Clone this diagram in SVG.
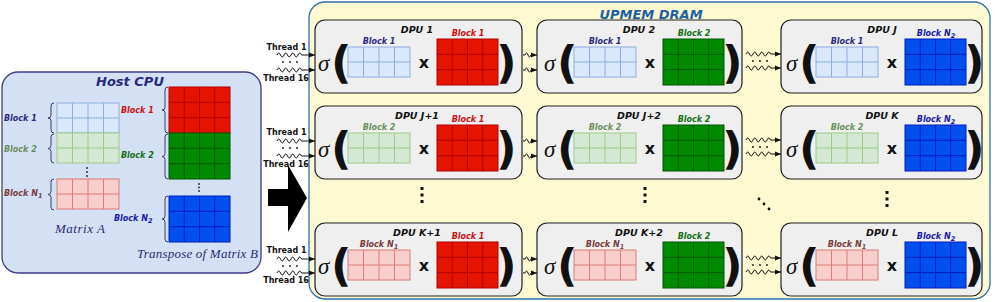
<svg xmlns="http://www.w3.org/2000/svg" xmlns:xlink="http://www.w3.org/1999/xlink" width="997" height="302" viewBox="0 0 997 302">
<style>
.lbl{font-family:"DejaVu Sans",sans-serif;font-weight:bold;font-style:oblique;font-size:8px}
.dpul{font-family:"DejaVu Sans",sans-serif;font-weight:bold;font-style:oblique;font-size:9.5px;fill:#111;text-anchor:middle}
.thr{font-family:"DejaVu Sans",sans-serif;font-weight:bold;font-size:8px;fill:#111;text-anchor:middle}
.sig{font-family:"Liberation Serif",serif;font-style:italic;font-size:23px;fill:#111}
.par{font-family:"DejaVu Sans",sans-serif;font-weight:bold;font-size:45px;fill:#111}
.mul{font-family:"DejaVu Sans",sans-serif;font-weight:bold;font-size:16px;fill:#111;text-anchor:middle}
.math{font-family:"Liberation Serif",serif;font-style:italic;font-size:13px;fill:#2b2b70}
.title{font-family:"DejaVu Sans",sans-serif;font-weight:bold;font-style:oblique;font-size:13px;text-anchor:middle}
.box{fill:#efefef;stroke:#222;stroke-width:1.2}
.sq{fill:none;stroke:#111;stroke-width:1;marker-end:url(#ah)}
.brace{fill:none;stroke:#3a3a6a;stroke-width:1}
.cB{fill:#2a2a7c}.cG{fill:#6a8f5a}.cP{fill:#7a3c3c}.cR{fill:#cc1010}.cDG{fill:#127012}.cBl{fill:#1a1aa8}
.mid{text-anchor:middle}
</style>
<defs>
<marker id="ah" viewBox="0 0 6 6" refX="6" refY="3" markerWidth="6" markerHeight="6" markerUnits="userSpaceOnUse" orient="auto"><path d="M0,0.5 L6,3 L0,5.5 z" fill="#111"/></marker>
<g id="mLB"><rect width="62" height="30" fill="#dae8fc" stroke="#8eaee0"/><path d="M15.5,0V30M31,0V30M46.5,0V30M0,15H62" stroke="#8eaee0" fill="none"/></g>
<g id="mLG"><rect width="62" height="30" fill="#d5e8d4" stroke="#9dcc86"/><path d="M15.5,0V30M31,0V30M46.5,0V30M0,15H62" stroke="#9dcc86" fill="none"/></g>
<g id="mLP"><rect width="62" height="30" fill="#f8cecc" stroke="#e07a76"/><path d="M15.5,0V30M31,0V30M46.5,0V30M0,15H62" stroke="#e07a76" fill="none"/></g>
<g id="mR"><rect width="61" height="46" fill="#e51400" stroke="#b20000"/><path d="M15.25,0V46M30.5,0V46M45.75,0V46M0,15.33H61M0,30.67H61" stroke="#b20000" fill="none"/></g>
<g id="mG"><rect width="61" height="46" fill="#008a00" stroke="#005700"/><path d="M15.25,0V46M30.5,0V46M45.75,0V46M0,15.33H61M0,30.67H61" stroke="#005700" fill="none"/></g>
<g id="mB"><rect width="61" height="46" fill="#0050ef" stroke="#001dbc"/><path d="M15.25,0V46M30.5,0V46M45.75,0V46M0,15.33H61M0,30.67H61" stroke="#001dbc" fill="none"/></g>
</defs>

<!-- Host CPU -->
<g id="host">
<rect x="2" y="72" width="259" height="201" rx="16" fill="#d4e1f5" stroke="#3d3d85" stroke-width="1.3"/>
<text x="130" y="86" class="title" fill="#2a2a7c">Host CPU</text>
<use xlink:href="#mLB" x="57" y="103"/>
<use xlink:href="#mLG" x="57" y="133"/>
<use xlink:href="#mLP" x="57" y="179"/>
<circle cx="87" cy="168" r="0.9" fill="#222"/><circle cx="87" cy="172" r="0.9" fill="#222"/><circle cx="87" cy="176" r="0.9" fill="#222"/>
<path class="brace" d="M54,103 Q51,103 51,106 L51,115 Q51,118 48,118 Q51,118 51,121 L51,130 Q51,133 54,133"/>
<path class="brace" d="M54,134 Q51,134 51,137 L51,145.5 Q51,148.5 48,148.5 Q51,148.5 51,151.5 L51,160 Q51,163 54,163"/>
<path class="brace" d="M54,179 Q51,179 51,182 L51,191.5 Q51,194.5 48,194.5 Q51,194.5 51,197.5 L51,207 Q51,210 54,210"/>
<text x="4" y="121" class="lbl cB">Block 1</text>
<text x="4" y="152" class="lbl cG">Block 2</text>
<text x="4" y="196" class="lbl cP">Block N<tspan font-size="6.5" dy="2">1</tspan></text>
<text x="55" y="233" class="math" textLength="50" lengthAdjust="spacing">Matrix A</text>
<use xlink:href="#mR" x="169" y="87"/>
<use xlink:href="#mG" x="169" y="133"/>
<use xlink:href="#mB" x="169" y="196"/>
<circle cx="199" cy="184" r="0.9" fill="#222"/><circle cx="199" cy="187.5" r="0.9" fill="#222"/><circle cx="199" cy="191" r="0.9" fill="#222"/>
<path class="brace" d="M168,87 Q165,87 165,90 L165,107 Q165,110 162,110 Q165,110 165,113 L165,130 Q165,133 168,133"/>
<path class="brace" d="M168,134 Q165,134 165,137 L165,153.5 Q165,156.5 162,156.5 Q165,156.5 165,159.5 L165,176 Q165,179 168,179"/>
<path class="brace" d="M168,196 Q165,196 165,199 L165,216 Q165,219 162,219 Q165,219 165,222 L165,239 Q165,242 168,242"/>
<text x="121" y="113" class="lbl cR">Block 1</text>
<text x="121" y="158" class="lbl cDG">Block 2</text>
<text x="114" y="221" class="lbl cBl">Block N<tspan font-size="6.5" dy="2">2</tspan></text>
<text x="137" y="258" class="math" textLength="121" lengthAdjust="spacing">Transpose of Matrix B</text>
</g>

<!-- UPMEM DRAM -->
<g id="upmem">
<rect x="309" y="2" width="681" height="297" rx="16" fill="#fdf9d0" stroke="#2f6fae" stroke-width="1.3"/>
<text x="651" y="19" class="title" fill="#1d5fa0">UPMEM DRAM</text>
</g>

<!-- DPUs -->
<g id="dpu1" transform="translate(313,20)">
<rect class="box" x="2" y="0" width="207" height="73" rx="10"/>
<text x="104" y="13" class="dpul">DPU 1</text>
<text x="5" y="51" class="sig">σ</text><text x="18" y="58" class="par">(</text>
<use xlink:href="#mLB" x="35" y="27"/><text x="66" y="24" class="lbl cB mid">Block 1</text>
<text x="111" y="48" class="mul">x</text>
<use xlink:href="#mR" x="124" y="19"/><text x="155" y="16" class="lbl cR mid">Block 1</text>
<text x="183" y="58" class="par">)</text>
</g>
<g id="dpu2" transform="translate(539,20)">
<rect class="box" x="-2" y="0" width="205" height="73" rx="10"/>
<text x="100" y="13" class="dpul">DPU 2</text>
<text x="5" y="51" class="sig">σ</text><text x="18" y="58" class="par">(</text>
<use xlink:href="#mLB" x="35" y="27"/><text x="66" y="24" class="lbl cB mid">Block 1</text>
<text x="111" y="48" class="mul">x</text>
<use xlink:href="#mG" x="124" y="19"/><text x="155" y="16" class="lbl cDG mid">Block 2</text>
<text x="183" y="58" class="par">)</text>
</g>
<g id="dpuJ" transform="translate(781,20)">
<rect class="box" x="0" y="0" width="201" height="73" rx="10"/>
<text x="101" y="13" class="dpul">DPU J</text>
<text x="5" y="51" class="sig">σ</text><text x="18" y="58" class="par">(</text>
<use xlink:href="#mLB" x="35" y="27"/><text x="66" y="24" class="lbl cB mid">Block 1</text>
<text x="111" y="48" class="mul">x</text>
<use xlink:href="#mB" x="124" y="19"/><text x="155" y="16" class="lbl cBl mid">Block N<tspan font-size="6.5" dy="2">2</tspan></text>
<text x="183" y="58" class="par">)</text>
</g>

<g id="dpuJ1" transform="translate(313,106)">
<rect class="box" x="2" y="0" width="207" height="73" rx="10"/>
<text x="104" y="13" class="dpul">DPU J+1</text>
<text x="5" y="51" class="sig">σ</text><text x="18" y="58" class="par">(</text>
<use xlink:href="#mLG" x="35" y="27"/><text x="66" y="24" class="lbl cG mid">Block 2</text>
<text x="111" y="48" class="mul">x</text>
<use xlink:href="#mR" x="124" y="19"/><text x="155" y="16" class="lbl cR mid">Block 1</text>
<text x="183" y="58" class="par">)</text>
</g>
<g id="dpuJ2" transform="translate(539,106)">
<rect class="box" x="-2" y="0" width="205" height="73" rx="10"/>
<text x="100" y="13" class="dpul">DPU J+2</text>
<text x="5" y="51" class="sig">σ</text><text x="18" y="58" class="par">(</text>
<use xlink:href="#mLG" x="35" y="27"/><text x="66" y="24" class="lbl cG mid">Block 2</text>
<text x="111" y="48" class="mul">x</text>
<use xlink:href="#mG" x="124" y="19"/><text x="155" y="16" class="lbl cDG mid">Block 2</text>
<text x="183" y="58" class="par">)</text>
</g>
<g id="dpuK" transform="translate(781,106)">
<rect class="box" x="0" y="0" width="201" height="73" rx="10"/>
<text x="101" y="13" class="dpul">DPU K</text>
<text x="5" y="51" class="sig">σ</text><text x="18" y="58" class="par">(</text>
<use xlink:href="#mLG" x="35" y="27"/><text x="66" y="24" class="lbl cG mid">Block 2</text>
<text x="111" y="48" class="mul">x</text>
<use xlink:href="#mB" x="124" y="19"/><text x="155" y="16" class="lbl cBl mid">Block N<tspan font-size="6.5" dy="2">2</tspan></text>
<text x="183" y="58" class="par">)</text>
</g>

<g id="dpuK1" transform="translate(313,223)">
<rect class="box" x="2" y="0" width="207" height="73" rx="10"/>
<text x="104" y="13" class="dpul">DPU K+1</text>
<text x="5" y="51" class="sig">σ</text><text x="18" y="58" class="par">(</text>
<use xlink:href="#mLP" x="35" y="27"/><text x="66" y="24" class="lbl cP mid">Block N<tspan font-size="6.5" dy="2">1</tspan></text>
<text x="111" y="48" class="mul">x</text>
<use xlink:href="#mR" x="124" y="19"/><text x="155" y="16" class="lbl cR mid">Block 1</text>
<text x="183" y="58" class="par">)</text>
</g>
<g id="dpuK2" transform="translate(539,223)">
<rect class="box" x="-2" y="0" width="205" height="73" rx="10"/>
<text x="100" y="13" class="dpul">DPU K+2</text>
<text x="5" y="51" class="sig">σ</text><text x="18" y="58" class="par">(</text>
<use xlink:href="#mLP" x="35" y="27"/><text x="66" y="24" class="lbl cP mid">Block N<tspan font-size="6.5" dy="2">1</tspan></text>
<text x="111" y="48" class="mul">x</text>
<use xlink:href="#mG" x="124" y="19"/><text x="155" y="16" class="lbl cDG mid">Block 2</text>
<text x="183" y="58" class="par">)</text>
</g>
<g id="dpuL" transform="translate(781,223)">
<rect class="box" x="0" y="0" width="201" height="73" rx="10"/>
<text x="101" y="13" class="dpul">DPU L</text>
<text x="5" y="51" class="sig">σ</text><text x="18" y="58" class="par">(</text>
<use xlink:href="#mLP" x="35" y="27"/><text x="66" y="24" class="lbl cP mid">Block N<tspan font-size="6.5" dy="2">1</tspan></text>
<text x="111" y="48" class="mul">x</text>
<use xlink:href="#mB" x="124" y="19"/><text x="155" y="16" class="lbl cBl mid">Block N<tspan font-size="6.5" dy="2">2</tspan></text>
<text x="183" y="58" class="par">)</text>
</g>

<!-- ellipsis dots -->
<g id="ellipses" fill="#111">
<rect x="420.5" y="187" width="3" height="3"/><rect x="420.5" y="193.5" width="3" height="3"/><rect x="420.5" y="200" width="3" height="3"/>
<rect x="643.5" y="187" width="3" height="3"/><rect x="643.5" y="193.5" width="3" height="3"/><rect x="643.5" y="200" width="3" height="3"/>
<rect x="885.5" y="191" width="3" height="3"/><rect x="885.5" y="197.5" width="3" height="3"/><rect x="885.5" y="204" width="3" height="3"/>
<circle cx="759" cy="199" r="1.4"/><circle cx="764" cy="204" r="1.4"/><circle cx="769" cy="209" r="1.4"/>
</g>

<!-- connectors -->
<g id="connectors">
<polygon points="268,189 288,189 288,165 307,198 288,232 288,206 268,206" fill="#000"/>
<path class="sq" d="M277,55 q1.75,-4 3.5,0 t3.5,0 t3.5,0 t3.5,0 t3.5,0 t3.5,0 t3.5,0 L315,55"/>
<path class="sq" d="M277,70 q1.75,-4 3.5,0 t3.5,0 t3.5,0 t3.5,0 t3.5,0 t3.5,0 t3.5,0 L315,70"/>
<path class="sq" d="M277,141 q1.75,-4 3.5,0 t3.5,0 t3.5,0 t3.5,0 t3.5,0 t3.5,0 t3.5,0 L315,141"/>
<path class="sq" d="M277,156 q1.75,-4 3.5,0 t3.5,0 t3.5,0 t3.5,0 t3.5,0 t3.5,0 t3.5,0 L315,156"/>
<path class="sq" d="M277,259 q1.75,-4 3.5,0 t3.5,0 t3.5,0 t3.5,0 t3.5,0 t3.5,0 t3.5,0 L315,259"/>
<path class="sq" d="M277,273 q1.75,-4 3.5,0 t3.5,0 t3.5,0 t3.5,0 t3.5,0 t3.5,0 t3.5,0 L315,273"/>

<path class="sq" d="M523,55 l2,0 q1.5,-4 3,0 t3,0 L537,55"/>
<path class="sq" d="M523,70 l2,0 q1.5,-4 3,0 t3,0 L537,70"/>
<path class="sq" d="M523,141 l2,0 q1.5,-4 3,0 t3,0 L537,141"/>
<path class="sq" d="M523,156 l2,0 q1.5,-4 3,0 t3,0 L537,156"/>
<path class="sq" d="M523,259 l2,0 q1.5,-4 3,0 t3,0 L537,259"/>
<path class="sq" d="M523,273 l2,0 q1.5,-4 3,0 t3,0 L537,273"/>

<path class="sq" d="M746,54 q1.75,-4 3.5,0 t3.5,0 t3.5,0 t3.5,0 t3.5,0 t3.5,0 t3.5,0 L781,54"/>
<path class="sq" d="M746,68 q1.75,-4 3.5,0 t3.5,0 t3.5,0 t3.5,0 t3.5,0 t3.5,0 t3.5,0 L781,68"/>
<path class="sq" d="M746,140 q1.75,-4 3.5,0 t3.5,0 t3.5,0 t3.5,0 t3.5,0 t3.5,0 t3.5,0 L781,140"/>
<path class="sq" d="M746,154 q1.75,-4 3.5,0 t3.5,0 t3.5,0 t3.5,0 t3.5,0 t3.5,0 t3.5,0 L781,154"/>
<path class="sq" d="M746,258 q1.75,-4 3.5,0 t3.5,0 t3.5,0 t3.5,0 t3.5,0 t3.5,0 t3.5,0 L781,258"/>
<path class="sq" d="M746,272 q1.75,-4 3.5,0 t3.5,0 t3.5,0 t3.5,0 t3.5,0 t3.5,0 t3.5,0 L781,272"/>
<g fill="#111">
<circle cx="283" cy="62" r="0.9"/><circle cx="290" cy="62" r="0.9"/><circle cx="297" cy="62" r="0.9"/>
<circle cx="283" cy="148" r="0.9"/><circle cx="290" cy="148" r="0.9"/><circle cx="297" cy="148" r="0.9"/>
<circle cx="283" cy="266" r="0.9"/><circle cx="290" cy="266" r="0.9"/><circle cx="297" cy="266" r="0.9"/>
<circle cx="753" cy="61" r="0.9"/><circle cx="760" cy="61" r="0.9"/><circle cx="767" cy="61" r="0.9"/>
<circle cx="753" cy="147" r="0.9"/><circle cx="760" cy="147" r="0.9"/><circle cx="767" cy="147" r="0.9"/>
<circle cx="753" cy="265" r="0.9"/><circle cx="760" cy="265" r="0.9"/><circle cx="767" cy="265" r="0.9"/>
</g>
</g>

<!-- thread labels -->
<g id="threads">
<text x="286.5" y="50" class="thr">Thread 1</text>
<text x="286" y="81" class="thr">Thread 16</text>
<text x="286.5" y="135" class="thr">Thread 1</text>
<text x="286" y="167" class="thr">Thread 16</text>
<text x="286.5" y="253" class="thr">Thread 1</text>
<text x="286" y="283" class="thr">Thread 16</text>
</g>
</svg>
